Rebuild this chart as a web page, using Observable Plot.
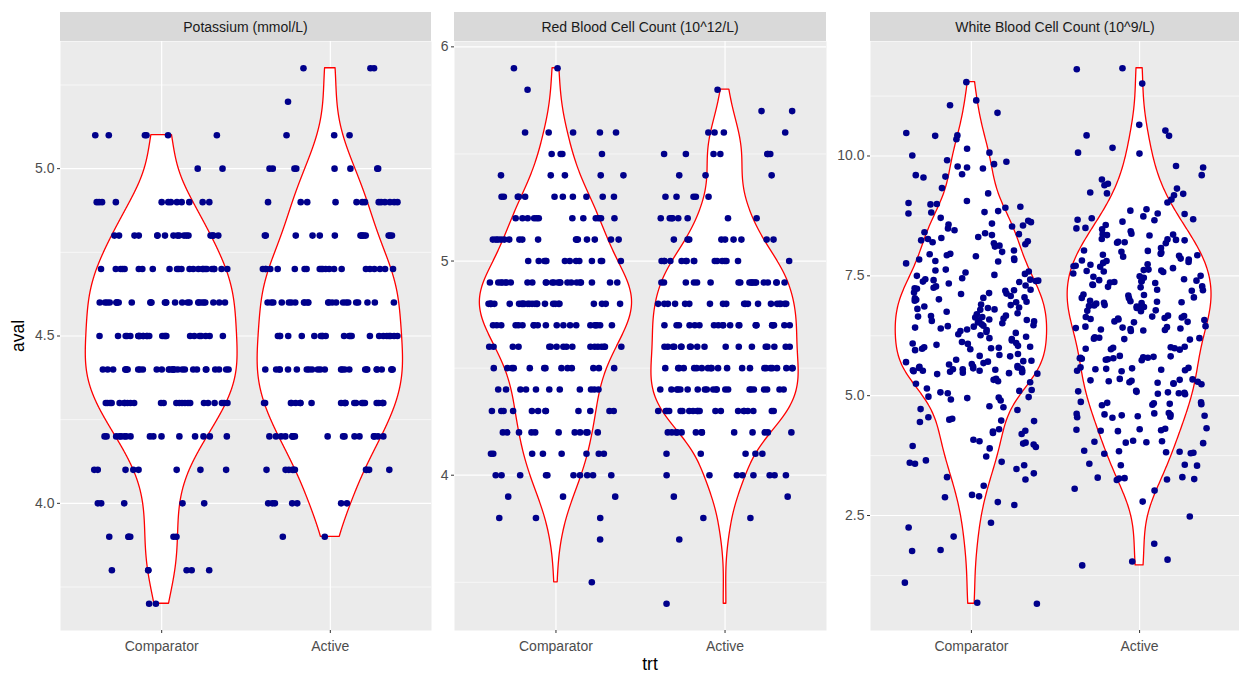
<!DOCTYPE html>
<html><head><meta charset="utf-8">
<script src="https://cdn.jsdelivr.net/npm/d3@7"></script>
<script src="https://cdn.jsdelivr.net/npm/@observablehq/plot@0.6"></script>
<style>
body{margin:0;background:#fff;font-family:"Liberation Sans",Arial,sans-serif;}
#root{position:relative;width:1239px;height:673px;overflow:hidden;background:#fff;}
.strip{position:absolute;background:#D9D9D9;color:#1A1A1A;font-size:14px;display:flex;align-items:center;justify-content:center;}
.plot{position:absolute;}
.title{position:absolute;color:#000;font-size:17.5px;text-align:center;line-height:20px;}
</style></head><body><div id="root"></div>
<script>
// ---------- data ----------
const groups = ["Comparator", "Active"];
const panelTitles = ["Potassium (mmol/L)", "Red Blood Cell Count (10^12/L)", "White Blood Cell Count (10^9/L)"];

// Potassium: counts of subjects at each 0.1 level
const potassiumLevels = [3.7,3.8,3.9,4.0,4.1,4.2,4.3,4.4,4.5,4.6,4.7,4.8,4.9,5.0,5.1,5.2,5.3];
const potassiumComparator = [2,6,6,5,8,16,24,29,25,27,24,17,12,2,6,0,0];
const potassiumActive     = [0,0,2,7,10,17,22,25,22,23,21,14,13,8,3,1,3];

// Red blood cell count: counts at each 0.1 level
const rbcLevels = [3.4,3.5,3.6,3.7,3.8,3.9,4.0,4.1,4.2,4.3,4.4,4.5,4.6,4.7,4.8,4.9,5.0,5.1,5.2,5.3,5.4,5.5,5.6,5.7,5.8,5.9];
const rbcComparator = [0,1,0,1,3,3,10,8,11,12,11,13,17,20,26,24,13,16,12,11,5,4,5,0,1,2];
const rbcActive     = [1,0,0,1,2,2,8,5,13,20,21,22,18,22,19,19,16,9,8,5,3,7,4,2,1,0];

// White blood cell count: individual values
const wbcComparator = [
11.54,11.16,11.06,10.90,10.48,10.43,10.42,10.35,10.15,10.07,10.01,9.91,9.88,9.83,9.78,9.76,9.74,9.62,9.60,9.57,9.55,9.33,9.22,9.06,9.02,9.00,8.99,8.94,8.92,8.85,8.83,8.82,8.80,8.71,8.65,8.62,8.59,8.57,8.55,8.53,8.49,8.45,8.41,8.39,8.37,8.35,8.31,8.29,8.27,8.24,8.22,8.20,8.18,8.16,8.13,8.11,8.03,8.00,7.96,7.95,7.93,7.91,7.86,7.84,7.83,7.81,7.80,7.76,7.63,7.61,7.59,7.57,7.54,7.52,7.50,7.45,7.43,7.42,7.41,7.40,7.39,7.34,7.30,7.28,7.37,7.38,7.25,7.23,7.21,7.19,7.15,7.24,7.20,7.13,7.14,7.12,7.08,7.03,7.01,7.00,7.04,6.96,6.98,6.89,6.86,6.84,6.83,6.81,6.79,6.80,6.66,6.63,6.65,6.67,6.64,6.61,6.59,6.58,6.57,6.56,6.51,6.49,6.47,6.46,6.44,6.42,6.40,6.38,6.37,6.33,6.31,6.26,6.23,
7.05,6.95,6.90,6.75,6.72,6.70,6.55,6.53,6.45,6.35,6.28,6.20,6.18,6.15,6.12,
6.10,6.09,6.08,6.06,6.04,6.02,6.00,5.99,5.97,5.95,6.01,5.98,5.87,5.85,5.83,5.82,5.75,5.72,5.70,5.68,5.66,5.71,5.73,5.65,5.62,5.58,5.55,5.53,5.60,5.52,5.50,5.59,5.56,5.54,5.51,5.49,5.61,5.57,5.45,5.53,5.48,5.55,5.46,5.47,5.52,5.30,5.28,5.33,5.25,5.35,5.15,5.10,5.07,5.12,5.05,4.95,4.97,4.92,4.98,4.90,4.96,4.78,4.72,4.76,4.70,4.52,4.48,4.50,4.47,4.55,4.45,4.27,4.22,4.25,4.20,4.30,4.02,3.98,3.95,4.05,4.00,3.93,3.90,4.08,3.73,3.60,3.62,3.55,3.58,3.65,3.47,3.38,3.30,3.25,3.12,2.93,2.90,2.88,2.78,2.72,2.35,2.25,2.06,1.78,1.76,1.10,0.68,0.66];
const wbcActive = [
11.83,11.81,11.51,10.65,10.53,10.43,10.42,10.17,10.07,10.05,9.79,9.76,9.60,9.51,9.42,9.39,9.32,9.24,9.22,9.21,9.18,9.09,9.03,8.89,8.86,8.80,8.79,8.74,8.70,8.66,8.67,8.68,8.63,8.56,8.50,8.49,8.47,8.43,8.38,8.37,8.36,8.35,8.34,8.27,8.25,8.26,8.24,8.18,8.20,8.21,8.19,8.08,8.03,8.00,7.96,7.93,8.02,7.98,7.94,7.92,7.90,7.86,7.84,7.81,7.82,7.79,7.77,7.74,7.73,7.70,7.69,7.71,7.66,7.63,7.60,7.58,7.61,7.59,7.62,7.55,7.50,7.49,7.48,7.46,7.43,7.38,7.40,7.41,7.37,7.36,7.39,7.35,7.32,7.31,7.27,7.26,7.28,7.20,7.19,7.21,7.10,7.11,7.09,7.05,7.04,7.03,6.95,6.96,6.94,6.97,6.93,6.98,6.92,6.88,6.87,6.89,6.86,6.85,6.84,6.83,6.77,6.76,6.78,6.65,6.64,6.66,6.63,6.67,6.60,6.59,6.61,6.58,6.62,6.55,6.54,6.53,
6.45,6.42,6.41,6.40,6.39,6.38,6.37,6.36,6.35,6.43,6.44,6.22,6.20,6.18,6.17,6.21,6.19,6.02,6.00,5.98,5.97,6.01,5.99,5.96,5.82,5.80,5.79,5.78,5.81,5.76,5.77,5.83,5.75,5.74,5.79,5.78,5.58,5.56,5.54,5.53,5.57,5.55,5.59,5.52,5.51,5.32,5.30,5.28,5.27,5.31,5.29,5.26,5.33,5.34,5.25,5.24,5.35,5.09,5.07,5.05,5.06,5.08,5.04,5.10,5.03,4.86,4.84,4.82,4.83,4.85,4.81,4.80,4.87,4.62,4.60,4.58,4.59,4.61,4.57,4.56,4.63,4.64,4.55,4.54,4.31,4.29,4.27,4.30,4.28,4.32,4.26,4.06,4.04,4.02,4.03,4.05,4.01,3.85,3.83,3.81,3.82,3.84,3.80,3.79,3.58,3.56,3.54,3.55,3.29,3.27,3.25,3.26,3.28,3.24,3.30,3.06,3.02,2.79,2.48,1.91,1.58,1.46,1.54];

// axis ticks
const kMajor = [4.0,4.5,5.0], kMinor = [3.75,4.25,4.75,5.25];
const rbcMajor = [4,5,6], rbcMinor = [3.5,4.5,5.5];
const wbcMajor = [2.5,5.0,7.5,10.0], wbcMinor = [1.25,3.75,6.25,8.75,11.25];

// ---------- helpers ----------
const expand = (levels, counts) => levels.flatMap((v, i) => Array(counts[i]).fill(v));

// deterministic horizontal jitter offset in [0,1): integer hash of the point index
function jitterFrac(i, g, p) {
  let n = (i * 2654435761 + g * 40503 + p * 97813 + 12345) | 0;
  n = Math.imul(n ^ (n >>> 16), 0x45d9f3b);
  n = Math.imul(n ^ (n >>> 16), 0x45d9f3b);
  n ^= n >>> 16;
  return (n >>> 0) / 4294967296;
}

function kde(values){
  const s = values.slice().sort(d3.ascending), n = s.length;
  const sd = d3.deviation(s);
  const iqr = d3.quantileSorted(s, 0.75) - d3.quantileSorted(s, 0.25);
  const lo = Math.min(sd, iqr / 1.34) || sd;
  const bw = 0.9 * lo * Math.pow(n, -0.2);
  const mn = s[0], mx = s[n - 1], out = [];
  for (let k = 0; k < 512; k++) {
    const y = mn + (mx - mn) * k / 511;
    let t = 0;
    for (const v of s) { const z = (y - v) / bw; t += Math.exp(-0.5 * z * z); }
    out.push({y, d: t / (n * bw * Math.sqrt(2 * Math.PI))});
  }
  return out;
}

const panels = [
  {title: panelTitles[0], left: 60, right: 431, data: [expand(potassiumLevels, potassiumComparator), expand(potassiumLevels, potassiumActive)], major: kMajor, minor: kMinor, fmt: d3.format(".1f")},
  {title: panelTitles[1], left: 454, right: 826, data: [expand(rbcLevels, rbcComparator), expand(rbcLevels, rbcActive)], major: rbcMajor, minor: rbcMinor, fmt: d3.format("d")},
  {title: panelTitles[2], left: 870, right: 1240, data: [wbcComparator, wbcActive], major: wbcMajor, minor: wbcMinor, fmt: d3.format(".1f")}
];

const root = document.getElementById("root");
const PTOP = 41, PBOT = 630, STRIP_TOP = 12, ML = 45, MB = 40;

panels.forEach((p, pi) => {
  const all = p.data.flat();
  const lo = d3.min(all), hi = d3.max(all), r = hi - lo;
  const dens = p.data.map(kde);
  const maxd = d3.max(dens.flat(), d => d.d);
  const violins = dens.flatMap((dd, g) => dd.map(o => ({group: groups[g], y: o.y, x1: g + 1 - 0.45 * o.d / maxd, x2: g + 1 + 0.45 * o.d / maxd})));
  const points = p.data.flatMap((vals, g) => vals.map((v, i) => ({group: groups[g], y: v, x: g + 1 + (jitterFrac(i, g, pi) - 0.5) * 0.8})));
  const pw = p.right - p.left;
  const chart = Plot.plot({
    width: ML + pw, height: (PBOT - PTOP) + MB,
    marginLeft: ML, marginRight: 0, marginTop: 0, marginBottom: MB,
    style: {fontFamily: "'Liberation Sans', Arial, sans-serif", fontSize: "14px", color: "#4D4D4D", background: "transparent", overflow: "visible"},
    x: {domain: [0.4, 2.6], axis: null},
    y: {domain: [lo - 0.05 * r, hi + 0.05 * r], axis: null},
    marks: [
      Plot.frame({fill: "#EBEBEB", stroke: null}),
      Plot.ruleY(p.minor, {stroke: "white", strokeWidth: 0.6}),
      Plot.ruleY(p.major, {stroke: "white", strokeWidth: 1.2}),
      Plot.ruleX([1, 2], {stroke: "white", strokeWidth: 1.2}),
      Plot.areaX(violins, {y: "y", x1: "x1", x2: "x2", z: "group", fill: "white", stroke: "red", strokeWidth: 1.3, curve: "linear"}),
      Plot.dot(points, {x: "x", y: "y", r: 3.3, fill: "#00008B", stroke: null}),
      Plot.axisY({ticks: p.major, tickFormat: p.fmt, tickSize: 3, tickPadding: 3, label: null, stroke: "#333333"}),
      Plot.axisX({ticks: [1, 2], tickFormat: d => groups[d - 1], tickSize: 3, tickPadding: 8, label: null, stroke: "#333333"})
    ]
  });
  chart.classList.add("plot");
  chart.style.left = (p.left - ML) + "px";
  chart.style.top = PTOP + "px";
  chart.style.maxWidth = "none";
  root.appendChild(chart);

  const strip = document.createElement("div");
  strip.className = "strip";
  strip.textContent = p.title;
  strip.style.left = p.left + "px";
  strip.style.width = pw + "px";
  strip.style.top = STRIP_TOP + "px";
  strip.style.height = (PTOP - STRIP_TOP) + "px";
  root.appendChild(strip);
});

const yTitle = document.createElement("div");
yTitle.className = "title";
yTitle.textContent = "aval";
Object.assign(yTitle.style, {left: "-22px", top: "326px", width: "80px", height: "20px", transform: "rotate(-90deg)"});
root.appendChild(yTitle);

const xTitle = document.createElement("div");
xTitle.className = "title";
xTitle.textContent = "trt";
Object.assign(xTitle.style, {left: "600px", top: "654px", width: "100px", height: "20px"});
root.appendChild(xTitle);
</script>
</body></html>
